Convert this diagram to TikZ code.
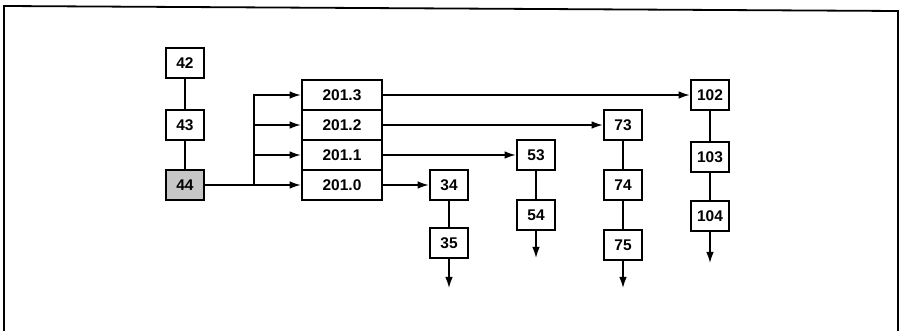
\documentclass[tikz,border=0pt]{standalone}
\usepackage{fontspec}
\setmainfont{Liberation Sans}
\usetikzlibrary{arrows.meta}
\begin{document}
\begin{tikzpicture}[x=1pt,y=-1pt,
  box/.style={draw, line width=2.6pt, minimum width=38pt, minimum height=30pt, inner sep=0pt,
    font=\fontsize{15.5}{17}\selectfont\bfseries},
  rowbox/.style={box, minimum width=80pt},
  conn/.style={line width=1.4pt},
  arr/.style={conn, -{Latex[length=11pt,width=7.5pt]}},
  frame/.style={line width=1.8pt}]
\useasboundingbox (0,0) rectangle (900,331);
% frame
\draw[frame] (4,331) -- (4,6) -- (898,11) -- (898,331);
% left column
\node[box] (n42) at (185,63) {42};
\node[box] (n43) at (185,125) {43};
\node[box, fill=gray!45] (n44) at (185,185) {44};
% 201 block
\node[rowbox] (r3) at (342,95) {201.3};
\node[rowbox] (r2) at (342,125) {201.2};
\node[rowbox] (r1) at (342,155) {201.1};
\node[rowbox] (r0) at (342,185) {201.0};
% targets
\node[box] (n34) at (449,185) {34};
\node[box] (n35) at (449,243) {35};
\node[box] (n53) at (536,155) {53};
\node[box] (n54) at (536,215) {54};
\node[box] (n73) at (623,125) {73};
\node[box] (n74) at (623,185) {74};
\node[box] (n75) at (623,245) {75};
\node[box] (n102) at (710,95) {102};
\node[box] (n103) at (710,157) {103};
\node[box] (n104) at (710,216) {104};
% free ends
\coordinate (e35) at (449,288);
\coordinate (e54) at (536,258);
\coordinate (e75) at (623,288);
\coordinate (e104) at (710,263);
\coordinate (br) at (254,185);
% connectors
\draw[conn] (n42) -- (n43);
\draw[conn] (n43) -- (n44);
\draw[arr] (n44) -- (r0);
\draw[conn] (br) -- (br |- r3);
\draw[arr] (br) |- (r1.west);
\draw[arr] (br) |- (r2.west);
\draw[arr] (br) |- (r3.west);
\draw[arr] (r0) -- (n34);
\draw[arr] (r1) -- (n53);
\draw[arr] (r2) -- (n73);
\draw[arr] (r3) -- (n102);
\draw[conn] (n34) -- (n35);
\draw[arr] (n35) -- (e35);
\draw[conn] (n53) -- (n54);
\draw[arr] (n54) -- (e54);
\draw[conn] (n73) -- (n74);
\draw[conn] (n74) -- (n75);
\draw[arr] (n75) -- (e75);
\draw[conn] (n102) -- (n103);
\draw[conn] (n103) -- (n104);
\draw[arr] (n104) -- (e104);
\end{tikzpicture}
\end{document}
